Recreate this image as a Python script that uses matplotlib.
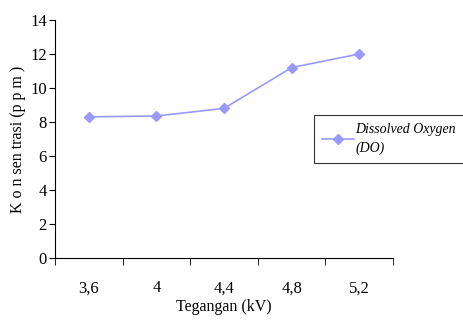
import matplotlib.pyplot as plt

plt.rcParams['font.family'] = ['Liberation Serif', 'DejaVu Serif']

tegangan = ["3,6", "4", "4,4", "4,8", "5,2"]
do_ppm = [8.3, 8.35, 8.8, 11.2, 12.0]

fig = plt.figure(figsize=(4.63, 3.22), dpi=100)
ax = fig.add_axes([0.119, 0.199, 0.730, 0.739])

x = list(range(len(tegangan)))
ax.plot(x, do_ppm, color="#9999ff", marker="D", markersize=5, linewidth=1.2,
        label="Dissolved Oxygen\n(DO)")

ax.set_xlim(-0.5, len(tegangan) - 0.5)
ax.set_ylim(0, 14)
ax.set_yticks(range(0, 15, 2))
ax.set_xticks(x)
ax.set_xticklabels(tegangan)
ax.set_xticks([i - 0.5 for i in range(len(tegangan) + 1)], minor=True)
ax.tick_params(axis="x", which="major", length=0, pad=16, labelsize=12)
ax.tick_params(axis="x", which="minor", length=5, direction="out")
ax.tick_params(axis="y", length=4, direction="out", labelsize=12, pad=2)

for s in ["top", "right"]:
    ax.spines[s].set_visible(False)

ax.set_xlabel("Tegangan (kV)", fontsize=11.5, labelpad=2)
ax.set_ylabel("K o n sen trasi (p p m )", fontsize=11.5, labelpad=3)

leg = fig.legend(loc="upper left", bbox_to_anchor=(0.678, 0.643), frameon=True,
                 fancybox=False, edgecolor="black", prop={"style": "italic", "size": 10},
                 handlelength=2.3, borderaxespad=0, borderpad=0.6, handletextpad=0.1)
leg.get_frame().set_linewidth(0.8)
leg.get_texts()[0].set_linespacing(1.5)

fig.savefig("out.png", dpi=100)
